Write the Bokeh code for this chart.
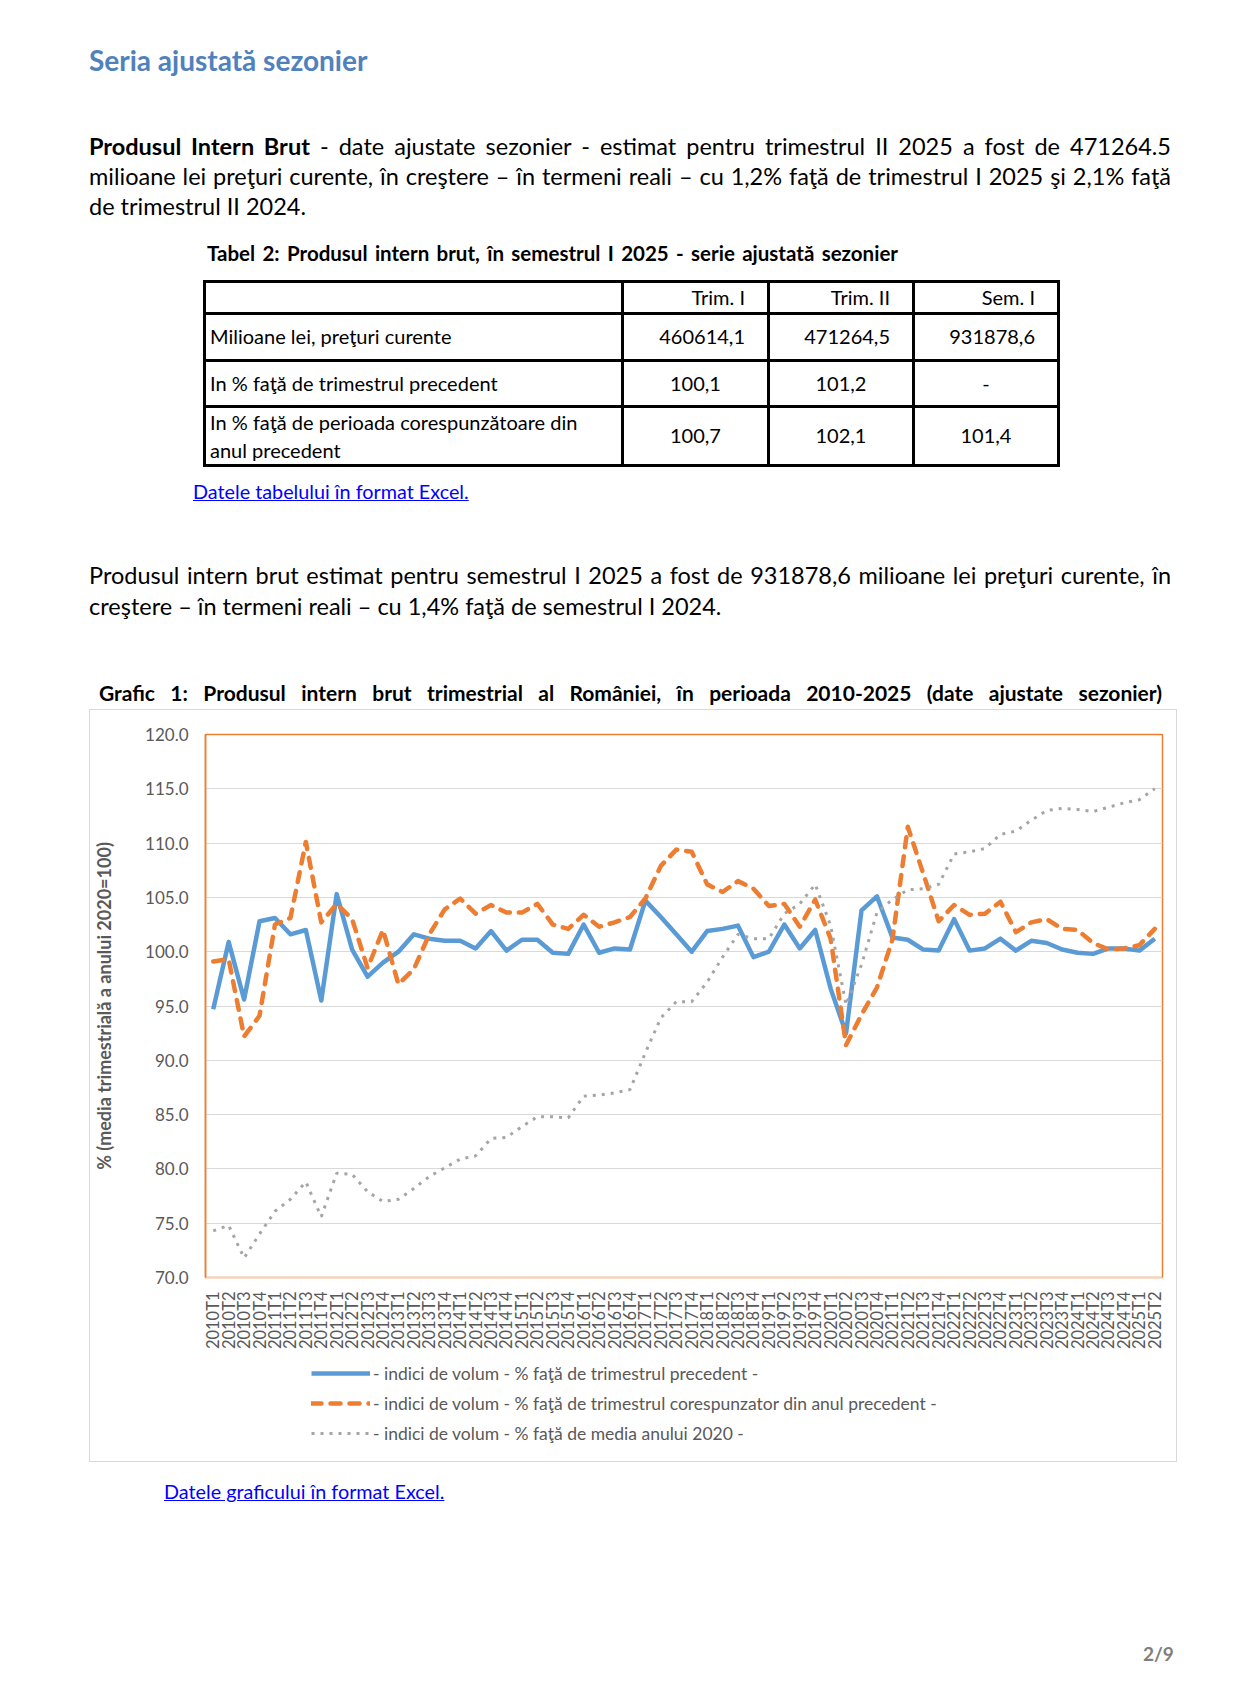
from math import pi
from bokeh.plotting import figure
from bokeh.models import (Div, Spacer, FactorRange, Range1d, FixedTicker,
                          NumeralTickFormatter, Legend, LegendItem)
from bokeh.layouts import column, row
from bokeh.embed import file_html
from bokeh.resources import INLINE

# ---------------- data ----------------
years = [str(y) for y in range(2010, 2026)]
quarter_names = ["T1", "T2", "T3", "T4"]
quarters = [y + q for y in years for q in quarter_names][:62]

q_prev = [94.7, 100.9, 95.6, 102.8, 103.1, 101.6, 102.0, 95.5,
          105.3, 100.2, 97.7, 99.0, 100.0, 101.6, 101.2, 101.0,
          101.0, 100.3, 101.9, 100.1, 101.1, 101.1, 99.9, 99.8,
          102.5, 99.9, 100.3, 100.2, 104.7, 103.2, 101.6, 100.0,
          101.9, 102.1, 102.4, 99.5, 100.0, 102.5, 100.3, 102.0,
          96.6, 92.5, 103.8, 105.1, 101.3, 101.1, 100.2, 100.1,
          103.0, 100.1, 100.3, 101.2, 100.1, 101.0, 100.8, 100.2,
          99.9, 99.8, 100.3, 100.3, 100.1, 101.2]

q_yoy = [99.1, 99.3, 92.2, 94.1, 102.5, 103.1, 110.1, 102.7,
         104.4, 103.0, 98.5, 102.0, 97.0, 98.4, 101.6, 103.9,
         104.9, 103.5, 104.3, 103.6, 103.6, 104.4, 102.5, 102.1,
         103.4, 102.3, 102.7, 103.2, 104.9, 107.9, 109.4, 109.2,
         106.2, 105.5, 106.5, 105.8, 104.2, 104.4, 102.3, 104.8,
         101.2, 91.4, 94.2, 96.7, 101.1, 111.5, 107.2, 102.8,
         104.3, 103.4, 103.5, 104.6, 101.8, 102.7, 103.0, 102.1,
         102.0, 100.8, 100.2, 100.3, 100.6, 102.1]

q_2020 = [74.3, 74.8, 71.8, 74.0, 76.1, 77.2, 78.8, 75.6,
          79.6, 79.5, 77.9, 77.0, 77.2, 78.2, 79.3, 80.1,
          80.9, 81.2, 82.8, 82.9, 83.9, 84.8, 84.8, 84.7,
          86.7, 86.8, 87.0, 87.3, 90.7, 93.9, 95.4, 95.4,
          97.2, 99.5, 101.6, 101.2, 101.2, 103.5, 104.4, 106.2,
          102.4, 95.1, 98.8, 103.6, 104.8, 105.7, 105.8, 106.2,
          109.0, 109.2, 109.5, 110.8, 111.1, 112.1, 113.0, 113.2,
          113.1, 112.9, 113.3, 113.7, 114.0, 115.0]

y_ticks = [70, 75, 80, 85, 90, 95, 100, 105, 110, 115, 120]

series_names = ["- indici de volum - % faţă de trimestrul precedent -",
                "- indici de volum - % faţă de trimestrul corespunzator din anul precedent -",
                "- indici de volum - % faţă de media anului 2020 -"]

table_cols = ["", "Trim. I", "Trim. II", "Sem. I"]
table_row1 = ["Milioane lei, preţuri curente", "460614,1", "471264,5", "931878,6"]
table_row2 = ["In % faţă de trimestrul precedent", "100,1", "101,2", "-"]
table_row3 = ["In % faţă de perioada corespunzătoare din<br>anul precedent", "100,7", "102,1", "101,4"]

# ---------------- page text (HTML) ----------------
FONT = "font-family:Lato,sans-serif;"


def line(top, left, width, text, size, weight=400, color="#000", justify=True, lh=30, extra=""):
    ta = "text-align:justify;text-align-last:justify;" if justify else ""
    return (f'<div style="position:absolute;top:{top}px;left:{left}px;width:{width}px;'
            f'{FONT}font-size:{size}px;font-weight:{weight};color:{color};line-height:{lh}px;'
            f'{ta}{extra}">{text}</div>')


cell = "border:3px solid #000;padding:0 4px;"
tbl = (f'<table style="position:absolute;left:198px;top:275px;border-collapse:collapse;'
       f'table-layout:fixed;width:854px;{FONT}font-size:20px;color:#000;">'
       '<colgroup><col style="width:418px"><col style="width:146px">'
       '<col style="width:145px"><col style="width:145px"></colgroup>'
       '<tr style="height:31px">'
       + f'<td style="{cell}"></td>'
       + "".join(f'<td style="{cell}text-align:right;padding-right:22px;">{c}</td>' for c in table_cols[1:])
       + '</tr><tr style="height:47px">'
       + f'<td style="{cell}">{table_row1[0]}</td>'
       + "".join(f'<td style="{cell}text-align:right;padding-right:22px;">{c}</td>' for c in table_row1[1:])
       + '</tr><tr style="height:46px">'
       + f'<td style="{cell}">{table_row2[0]}</td>'
       + "".join(f'<td style="{cell}text-align:center;">{c}</td>' for c in table_row2[1:])
       + '</tr><tr style="height:56px">'
       + f'<td style="{cell}line-height:28px;">{table_row3[0]}</td>'
       + "".join(f'<td style="{cell}text-align:center;">{c}</td>' for c in table_row3[1:])
       + '</tr></table>')

top_html = (
    '<div style="position:relative;width:1234px;height:699px;">'
    + line(38, 84, 400, "Seria ajustată sezonier", 28, 700, "#4F81BD", justify=False, lh=34)
    + line(126, 84, 1082, "<b>Produsul Intern Brut</b> - date ajustate sezonier - estimat pentru trimestrul II 2025 a fost de 471264.5", 23.5)
    + line(156, 84, 1082, "milioane lei preţuri curente, în creştere – în termeni reali – cu 1,2% faţă de trimestrul I 2025 şi 2,1% faţă", 23.5)
    + line(186, 84, 1082, "de trimestrul II 2024.", 23.5, justify=False)
    + line(235, 202, 691, "Tabel 2: Produsul intern brut, în semestrul I 2025 - serie ajustată sezonier", 20.5, 700, lh=26)
    + tbl
    + line(474, 188, 400, "Datele tabelului în format Excel.", 19.8, color="#0000FF", justify=False, lh=24,
           extra="text-decoration:underline;")
    + line(555, 84, 1082, "Produsul intern brut estimat pentru semestrul I 2025 a fost de 931878,6 milioane lei preţuri curente, în", 23.5)
    + line(586, 84, 1082, "creştere – în termeni reali – cu 1,4% faţă de semestrul I 2024.", 23.5, justify=False)
    + line(674, 94, 1063, "Grafic 1: Produsul intern brut trimestrial al României, în perioada 2010-2025 (date ajustate sezonier)", 21, 700, lh=28)
    + '</div>'
)

bottom_html = (
    '<div style="position:relative;width:1234px;height:215px;">'
    + line(12, 159, 400, "Datele graficului în format Excel.", 19.8, color="#0000FF", justify=False, lh=24,
           extra="text-decoration:underline;")
    + line(175, 1138, 60, "2/9", 19, 700, "#7F7F7F", justify=False, lh=24)
    + '</div>'
)

top_div = Div(text=top_html, width=1234, height=699)
bottom_div = Div(text=bottom_html, width=1234, height=215)

# ---------------- chart ----------------
p = figure(width=1086, height=642, x_range=FactorRange(factors=quarters),
           y_range=Range1d(70, 120), output_backend="svg", toolbar_location=None,
           min_border_left=115, min_border_right=14, min_border_top=24,
           min_border_bottom=73, background_fill_color="white",
           border_fill_color="white")

line_styles = [dict(line_color="#5B9BD5", line_width=4.5, line_join="round"),
               dict(line_color="#ED7D31", line_width=4.5, line_dash="10 9",
                    line_cap="round", line_join="round"),
               dict(line_color="#A5A5A5", line_width=3, line_dash="3 6")]

p.line(quarters, q_prev, **line_styles[0])
p.line(quarters, q_yoy, **line_styles[1])
p.line(quarters, q_2020, **line_styles[2])

p.outline_line_color = "#ED7D31"
p.outline_line_width = 1.5
p.xgrid.grid_line_color = None
p.ygrid.ticker = FixedTicker(ticks=y_ticks)
p.ygrid.grid_line_color = "#D9D9D9"

ya = p.yaxis[0]
ya.ticker = FixedTicker(ticks=y_ticks)
ya.formatter = NumeralTickFormatter(format="0.0")
ya.major_tick_line_color = None
ya.minor_tick_line_color = None
ya.axis_line_color = "#ED7D31"
ya.axis_line_width = 1.5
ya.major_label_standoff = 11
ya.major_label_text_font = "Lato"
ya.major_label_text_font_size = "17px"
ya.major_label_text_color = "#595959"
ya.axis_label = "% (media trimestrială a anului 2020=100)"
ya.axis_label_text_font = "Lato"
ya.axis_label_text_font_size = "18px"
ya.axis_label_text_font_style = "bold"
ya.axis_label_text_color = "#595959"
ya.axis_label_standoff = 27

xa = p.xaxis[0]
xa.major_label_orientation = pi / 2
xa.major_tick_line_color = None
xa.minor_tick_line_color = None
xa.axis_line_color = "#D9D9D9"
xa.major_label_standoff = 8
xa.major_label_text_font = "Lato"
xa.major_label_text_font_size = "16.5px"
xa.major_label_text_color = "#595959"

# ---------------- legend strip (inside the same chart box) ----------------
pl = figure(width=1086, height=109, x_range=Range1d(0, 1), y_range=Range1d(0, 1),
            output_backend="svg", toolbar_location=None, min_border=0,
            x_axis_location=None, y_axis_location=None,
            background_fill_color="white", border_fill_color="white")
pl.outline_line_color = None
pl.grid.visible = False
# legend-only renderers: a single NaN point, so nothing is drawn in the strip itself
lr = [pl.line([float("nan")], [float("nan")], **st) for st in line_styles]

legend = Legend(items=[LegendItem(label=series_names[i], renderers=[lr[i]]) for i in range(3)],
                location=(106, 13), orientation="vertical",
                border_line_color=None, background_fill_alpha=0,
                padding=0, margin=0, spacing=0, glyph_width=59, glyph_height=30,
                label_height=30, label_standoff=3, label_text_font="Lato",
                label_text_font_size="17.5px", label_text_color="#595959")
pl.add_layout(legend)

chart_box = column(p, pl, styles={"border": "1px solid #D9D9D9"})
layout = column(top_div, row(Spacer(width=89, height=753), chart_box), bottom_div)

open("out.html", "w").write(file_html(layout, INLINE))
